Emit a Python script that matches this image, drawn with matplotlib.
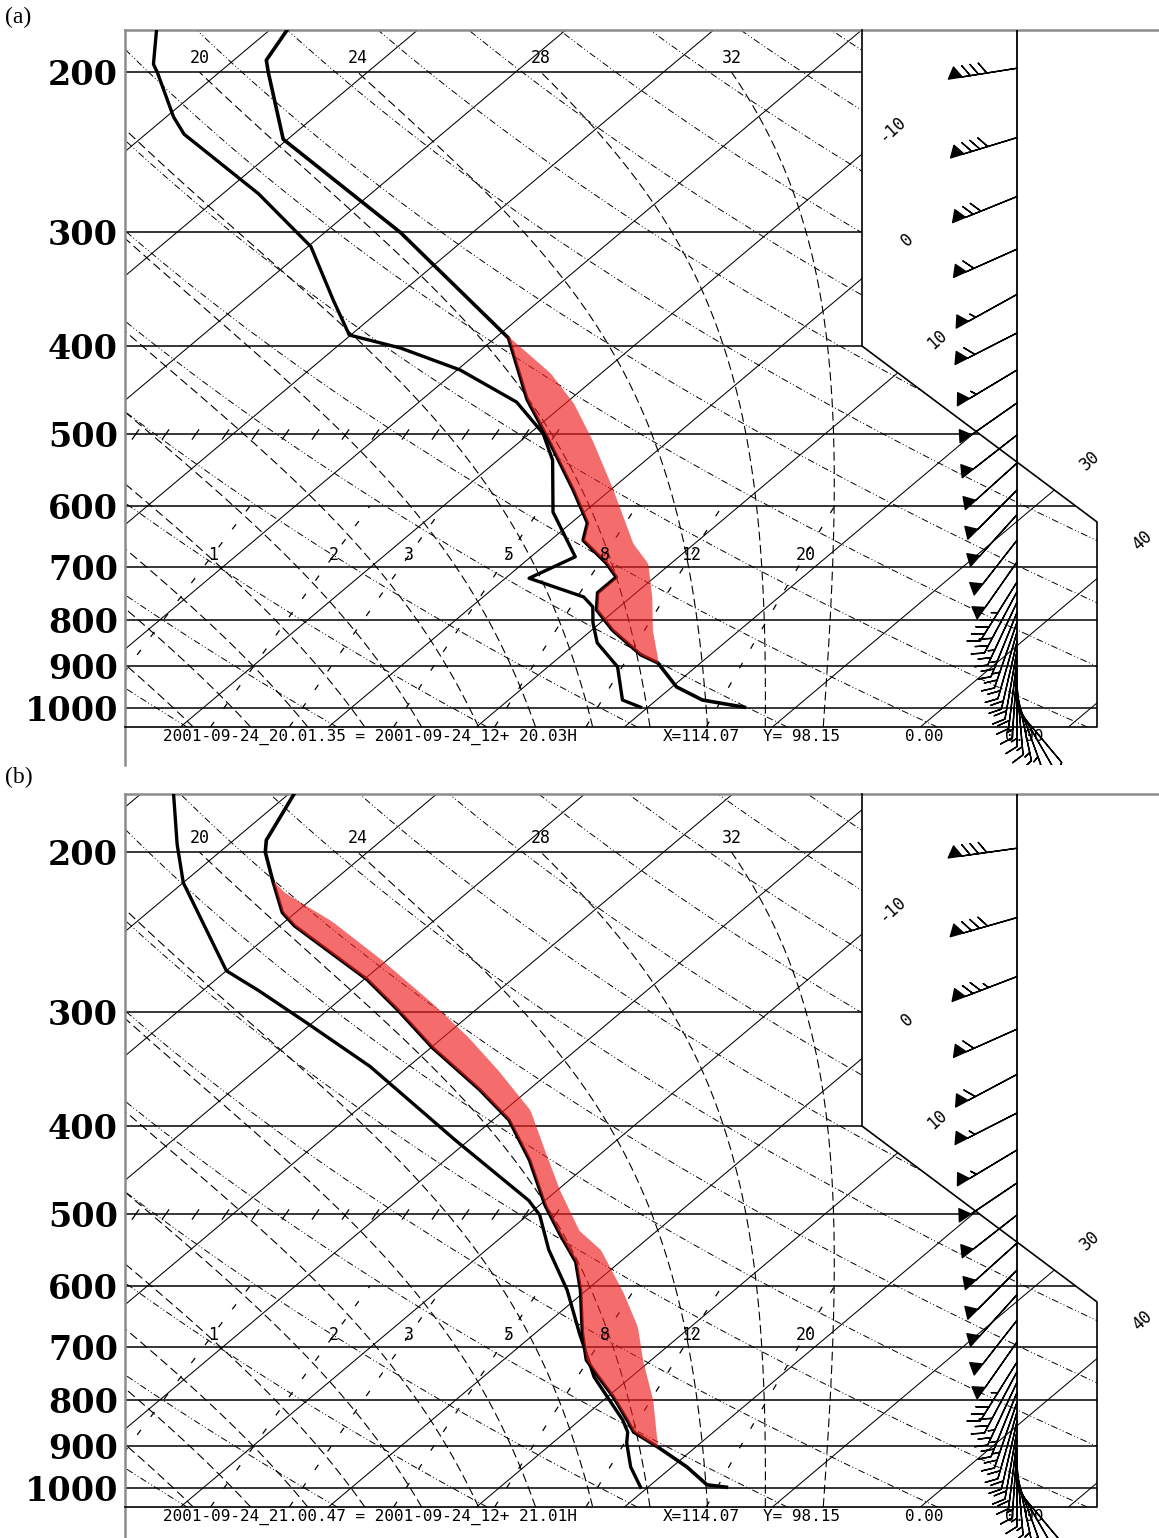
import numpy as np
import matplotlib
matplotlib.use("Agg")
import matplotlib.pyplot as plt
from matplotlib.patches import Polygon
from matplotlib.ticker import NullLocator

# ---- soundings (hPa, degC) ----
# (a) 2001-09-24 20:01
p_t_a = [180, 194, 200, 237, 300, 392, 458, 504, 576, 626, 654, 693, 718, 747, 780, 821, 874, 892, 948, 980, 998]
t_a = [-58.8, -57.8, -56.7, -50.3, -34.9, -19.1, -12.9, -8.5, -2.5, 1.1, 2.2, 5.6, 7.4, 7.4, 8.7,
       11.4, 15.3, 17.1, 20.3, 23.1, 26.5]
p_td_a = [180, 196, 200, 224, 234, 272, 311, 356, 389, 402, 425, 461, 499, 534, 609, 682, 720, 755,
          774, 806, 848, 901, 980, 998]
td_a = [-67.6, -65.1, -64.2, -59.5, -57.4, -47.6, -39.8, -34.0, -30.1, -25.6, -19.8, -13.4, -9.1, -6.3,
        -2.1, 3.0, 1.6, 6.8, 8.2, 9.5, 11.4, 14.7, 17.7, 19.5]
p_pcl_a = [390, 428, 462, 508, 572, 659, 693, 755, 821, 879, 892]
t_pcl_a = [-19.3, -13.5, -9.5, -5.2, -0.1, 5.8, 8.4, 11.4, 14.1, 16.6, 17.1]

# (b) 2001-09-24 21:00
p_t_b = [173, 194, 200, 215, 233, 241, 276, 298, 328, 365, 394, 436, 489, 527, 564, 606, 676, 723,
         755, 794, 842, 868, 901, 948, 992, 998]
t_b = [-59.6, -57.8, -56.9, -54.1, -50.9, -49.0, -39.8, -35.3, -29.9, -23.3, -18.9, -14.3, -9.6, -6.2,
       -3.0, -0.4, 3.2, 5.6, 7.8, 10.4, 13.2, 14.6, 17.4, 21.0, 23.8, 25.3]
p_td_b = [173, 196, 216, 270, 284, 308, 344, 414, 483, 501, 547, 606, 676, 755, 842, 868, 892, 948, 998]
td_b = [-67.7, -63.5, -60.0, -50.0, -46.2, -40.4, -32.6, -21.0, -11.1, -9.2, -5.8, -1.3, 3.0, 7.5,
        12.9, 14.2, 15.0, 17.2, 19.5]
p_pcl_b = [215, 222, 238, 263, 293, 319, 347, 384, 425, 471, 521, 547, 610, 665, 723, 800, 901]
t_pcl_b = [-54.1, -52.2, -46.9, -40.3, -33.5, -28.4, -23.7, -18.3, -14.1, -9.8, -5.3, -2.3, 2.7, 6.4,
           9.4, 13.3, 17.4]

# winds: level (hPa), speed (kt), direction (deg, from)
p_w_a = [198, 236, 274, 313, 351, 387, 425, 462, 501, 538, 576, 613, 654, 691, 727, 745, 765, 785,
         805, 825, 845, 865, 885, 905, 925, 945, 962, 978, 992, 1003]
spd_a = [80, 80, 70, 60, 55, 60, 55, 50, 50, 50, 50, 50, 50, 50, 45, 30, 25, 25, 25, 20, 20, 20, 20,
         15, 15, 15, 15, 15, 10, 10]
dir_a = [261, 253, 248, 246, 241, 243, 239, 235, 232, 228, 225, 222, 218, 215, 212, 208, 205, 202,
         199, 196, 193, 190, 187, 184, 180, 175, 168, 160, 150, 140]
p_w_b = p_w_a
spd_b = [80, 80, 75, 60, 60, 55, 55, 50, 50, 50, 50, 50, 50, 50, 45, 30, 25, 25, 25, 20, 20, 20, 20,
         15, 15, 15, 15, 15, 10, 10]
dir_b = [262, 254, 249, 246, 242, 243, 239, 236, 232, 228, 225, 222, 218, 215, 212, 208, 205, 202,
         199, 196, 193, 190, 187, 184, 180, 175, 168, 160, 150, 140]

stamp_a = ["2001-09-24_20.01.35 = 2001-09-24_12+ 20.03H", "X=114.07", "Y= 98.15", "0.00", "0.00"]
stamp_b = ["2001-09-24_21.00.47 = 2001-09-24_12+ 21.01H", "X=114.07", "Y= 98.15", "0.00", "0.00"]

PLEV = [200, 300, 400, 500, 600, 700, 800, 900, 1000]
ISO_LAB_T = [-10, 0, 10, 30, 40]
THW = list(range(-12, 33, 4))
THW_LAB = [20, 24, 28, 32]
MIX = [1, 2, 3, 5, 8, 12, 20]

# ---- layout ----
K = 470.0 / 14.8          # skew (x units per ln p)
PBOT = 1049.3
ISO_LAB_P = [231, 306, 394, 534, 654]
STAMP_X = [163, 663, 763, 905, 1005]
MONO = "DejaVu Sans Mono"


def px(x):
    return (np.asarray(x, float) - 351.0) / 14.8


def skx(t, p):
    return np.asarray(t, float) + K * np.log(1000.0 / np.asarray(p, float))


Rd, cp, Lv, eps = 287.04, 1005.7, 2.501e6, 0.622


def dT_dlnp(T, p):
    es = 6.112 * np.exp(17.67 * (T - 273.15) / (T - 29.65))
    rs = eps * es / (p - es)
    return (Rd * T + Lv * rs) / (cp + Lv * Lv * rs * eps / (Rd * T * T))


def moist_curve(tw, p_lo, p_hi, n=160):
    def run(p_end):
        lp = np.linspace(np.log(1000.0), np.log(p_end), n)
        T = np.empty(n); T[0] = tw + 273.15
        for i in range(n - 1):
            h = lp[i + 1] - lp[i]
            p0, p1, pm = np.exp(lp[i]), np.exp(lp[i + 1]), np.exp(0.5 * (lp[i] + lp[i + 1]))
            k1 = dT_dlnp(T[i], p0)
            k2 = dT_dlnp(T[i] + 0.5 * h * k1, pm)
            k3 = dT_dlnp(T[i] + 0.5 * h * k2, pm)
            k4 = dT_dlnp(T[i] + h * k3, p1)
            T[i + 1] = T[i] + h * (k1 + 2 * k2 + 2 * k3 + k4) / 6
        return np.exp(lp), T - 273.15
    pd_, td_ = run(p_lo)
    pu, tu = run(p_hi)
    return np.concatenate([pd_[::-1], pu[1:]]), np.concatenate([td_[::-1], tu[1:]])


def mix_td(w, p):
    p = np.asarray(p, float)
    e = w / 1000.0 * p / (eps + w / 1000.0)
    a = np.log(e / 6.112)
    return 243.5 * a / (17.67 - a)


def panel(ax, ptop, pax, p_t, t, p_td, td, p_pcl, t_pcl, p_w, spd, wdir, stamp):
    XL, XR = px(125), px(1159)
    ax.set_xlim(XL, XR)
    ax.set_yscale("log")
    ax.set_ylim(pax, ptop)
    ax.set_xticks([])
    ax.set_yticks(PLEV)
    ax.set_yticklabels([str(p) for p in PLEV], fontfamily="DejaVu Serif", fontweight="bold", fontsize=24)
    ax.yaxis.set_minor_locator(NullLocator())
    ax.tick_params(axis="y", length=0, pad=5)
    for s in ["right", "bottom"]:
        ax.spines[s].set_visible(False)
    for s in ["left", "top"]:
        ax.spines[s].set_color("#8c8c8c"); ax.spines[s].set_linewidth(1.8)

    x862, x1097, x1017 = px(862), px(1097), px(1017)
    clip = Polygon([(XL, ptop), (x862, ptop), (x862, 400), (x1097, 624.4), (x1097, PBOT), (XL, PBOT)],
                   closed=True, transform=ax.transData, fc="none", ec="none")

    def clipped(line):
        line.set_clip_path(clip)

    # isotherms
    pp = np.array([PBOT, ptop])
    for T in range(-130, 70, 10):
        clipped(ax.plot(skx(T, pp), pp, color="k", lw=0.75, zorder=1)[0])
    # dry adiabats
    pg = np.geomspace(PBOT, ptop, 200)
    for th in range(230, 520, 10):
        tt = th * (pg / 1000.0) ** 0.2857 - 273.15
        clipped(ax.plot(skx(tt, pg), pg, color="k", lw=0.7,
                        ls=(0, (7, 2.5, 1, 2.5, 1, 2.5)), zorder=1)[0])
    # moist adiabats
    for tw in THW:
        pm, tm = moist_curve(tw, PBOT, 200.0)
        clipped(ax.plot(skx(tm, pm), pm, color="k", lw=0.8, ls=(0, (8, 4)), zorder=1)[0])
        if tw in THW_LAB:
            xl = np.interp(np.log(193.0), np.log(pm[::-1]), skx(tm, pm)[::-1])
            ax.text(xl, 193, str(tw), family=MONO, fontsize=12, ha="center", va="center", zorder=6)
    # mixing ratio lines
    pw = np.geomspace(PBOT, 600, 50)
    for w in MIX:
        clipped(ax.plot(skx(mix_td(w, pw), pw), pw, color="k", lw=0.9, ls=(0, (5, 13)), zorder=1)[0])
        ax.text(skx(mix_td(w, 679), 679), 679, str(w), family=MONO, fontsize=12,
                ha="center", va="center", zorder=6)
    # ticks along 500 hPa
    xt = px(np.arange(135, 560, 30))
    ax.plot(xt, np.full(len(xt), 500.0), ls="none", marker=(2, 0, -35), ms=9, mew=0.9, color="k", zorder=2)

    # isobars
    for p in PLEV:
        clipped(ax.axhline(p, color="k", lw=1.1, zorder=2))
    # frame of the diagram
    ax.plot([x862, x862, x1097, x1097, XL], [ptop, 400, 624.4, PBOT, PBOT], color="k", lw=1.2,
            zorder=3, clip_on=False)
    ax.plot([x1017, x1017], [ptop, PBOT], color="k", lw=1.3, zorder=3)

    # isotherm labels
    for T, p in zip(ISO_LAB_T, ISO_LAB_P):
        ax.text(skx(T, p), p, str(T), family=MONO, fontsize=12, rotation=42,
                ha="center", va="center", zorder=6)

    # sounding
    ax.plot(skx(t, p_t), p_t, color="k", lw=2.6, zorder=4)
    ax.plot(skx(td, p_td), p_td, color="k", lw=2.4, zorder=4)
    lo, hi = max(min(p_t), min(p_pcl)), min(max(p_t), max(p_pcl))
    pf = np.geomspace(lo, hi, 150)
    te = np.interp(np.log(pf), np.log(p_t), t)
    tp = np.interp(np.log(pf), np.log(p_pcl), t_pcl)
    ax.fill_betweenx(pf, skx(te, pf), skx(tp, pf), color="#f01e1e", alpha=0.65, lw=0, zorder=5)

    # winds
    d = np.deg2rad(wdir); s = np.asarray(spd, float)
    ax.barbs(np.full(len(p_w), x1017), p_w, -s * np.sin(d), -s * np.cos(d), length=10, lw=1.0,
             color="k", sizes=dict(spacing=0.12, height=0.16, width=0.2), zorder=4)

    # stamp line under the diagram
    for txt, x in zip(stamp, STAMP_X):
        ax.text(px(x), 1076, txt, family=MONO, fontsize=11.5, ha="left", va="center", zorder=6)


fig = plt.figure(figsize=(11.59, 15.38), dpi=100)
W, H = 1159.0, 1538.0
ax_a = fig.add_axes([125 / W, 1 - 765 / H, 1034 / W, 735 / H])
ax_b = fig.add_axes([125 / W, 0.0, 1034 / W, 744 / H])

panel(ax_a, 179.73, 1155.25, p_t_a, t_a, p_td_a, td_a, p_pcl_a, t_pcl_a, p_w_a, spd_a, dir_a, stamp_a)
panel(ax_b, 172.6, 1134.9, p_t_b, t_b, p_td_b, td_b, p_pcl_b, t_pcl_b, p_w_b, spd_b, dir_b, stamp_b)

fig.text(5 / W, 1 - 17 / H, "(a)", family="Liberation Serif", fontsize=17, va="center", ha="left")
fig.text(5 / W, 1 - 777 / H, "(b)", family="Liberation Serif", fontsize=17, va="center", ha="left")

fig.savefig("out.png", dpi=100)
